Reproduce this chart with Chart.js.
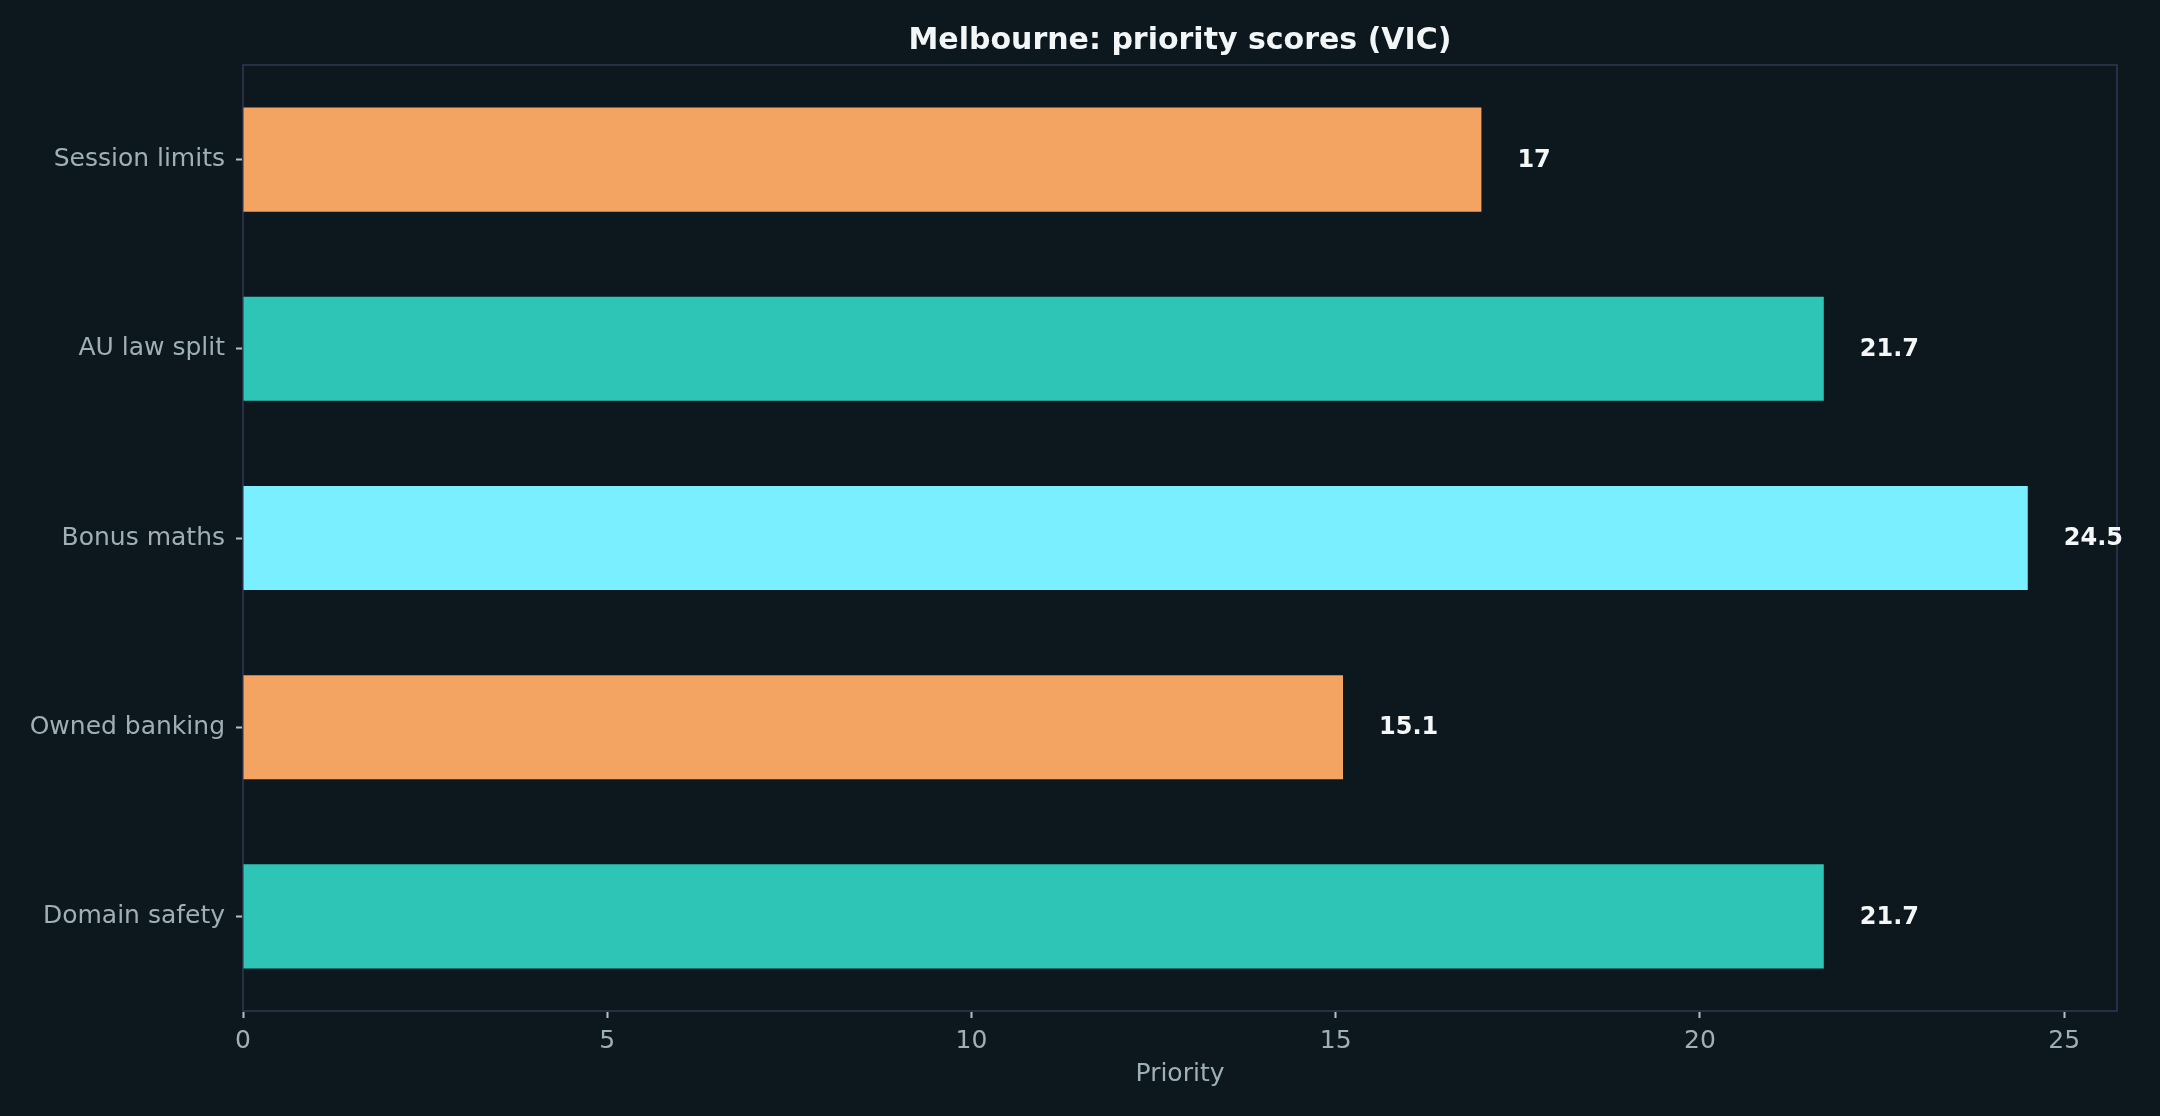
<!DOCTYPE html>
<html>
<head>
<meta charset="utf-8">
<script src="https://cdn.jsdelivr.net/npm/chart.js@4.4.1/dist/chart.umd.min.js"></script>
<style>
  html, body { margin: 0; padding: 0; background: #0c181e; }
  #wrap { width: 2160px; height: 1116px; }
</style>
</head>
<body>
<div id="wrap"><canvas id="prioChart" width="2160" height="1116"></canvas></div>
<script>
// donnees
const categories = ['Session limits', 'AU law split', 'Bonus maths', 'Owned banking', 'Domain safety'];
const priorityScores = [17, 21.7, 24.5, 15.1, 21.7];
const xTicks = [0, 5, 10, 15, 20, 25];
const xMax = 25.725;

const couleurTexte = '#9fb0b5';
const couleurCadre = '#272e45';
const police = 'DejaVu Sans';

// fond de la page + cadre autour de la zone (sous les barres et les textes)
const fondPlugin = {
    id: 'fond',
    beforeDraw(chart) {
        const ctx = chart.ctx;
        ctx.save();
        ctx.fillStyle = '#0c181e';
        ctx.fillRect(0, 0, chart.width, chart.height);
        ctx.restore();
    },
    beforeDatasetsDraw(chart) {
        const ctx = chart.ctx;
        const a = chart.chartArea;
        ctx.save();
        ctx.strokeStyle = couleurCadre;
        ctx.lineWidth = 2;
        ctx.strokeRect(a.left, a.top, a.right - a.left, a.bottom - a.top);
        ctx.restore();
    }
};

// titre centre sur la zone du graphique
const titrePlugin = {
    id: 'titre',
    afterDraw(chart) {
        const ctx = chart.ctx;
        const a = chart.chartArea;
        ctx.save();
        ctx.fillStyle = '#f3f6f6';
        ctx.font = `bold 30px "${police}"`;
        ctx.textAlign = 'center';
        ctx.textBaseline = 'middle';
        ctx.fillText('Melbourne: priority scores (VIC)', (a.left + a.right) / 2, 41.5);
        ctx.restore();
    }
};

// etiquettes de valeur a droite des barres
const valeursPlugin = {
    id: 'valeurs',
    afterDatasetsDraw(chart) {
        const ctx = chart.ctx;
        const meta = chart.getDatasetMeta(0);
        ctx.save();
        ctx.fillStyle = '#f5f7f7';
        ctx.font = `bold 24px "${police}"`;
        ctx.textAlign = 'left';
        ctx.textBaseline = 'middle';
        meta.data.forEach((bar, i) => {
            ctx.fillText(String(priorityScores[i]), bar.x + 36, bar.y + 1);
        });
        ctx.restore();
    }
};

const ctx = document.getElementById('prioChart').getContext('2d');
new Chart(ctx, {
    type: 'bar',
    data: {
        labels: categories,
        datasets: [{
            data: priorityScores,
            backgroundColor: ['#f4a462', '#2ec4b6', '#7aefff', '#f4a462', '#2ec4b6'],
            borderWidth: 0,
            categoryPercentage: 1,
            barPercentage: 0.55
        }]
    },
    options: {
        indexAxis: 'y',
        responsive: false,
        animation: false,
        layout: { padding: { top: 65, right: 43, left: 0, bottom: 0 } },
        plugins: {
            legend: { display: false },
            tooltip: { enabled: false },
            title: { display: false }
        },
        scales: {
            x: {
                min: 0,
                max: xMax,
                afterBuildTicks: function (scale) {
                    scale.ticks = xTicks.map(v => ({ value: v }));
                },
                grid: {
                    drawOnChartArea: false,
                    drawTicks: true,
                    tickLength: 7,
                    tickWidth: 2,
                    tickColor: '#b3c0c4'
                },
                border: { display: false },
                ticks: {
                    color: couleurTexte,
                    font: { family: police, size: 25 },
                    padding: 8,
                    maxRotation: 0
                },
                title: {
                    display: true,
                    text: 'Priority',
                    color: couleurTexte,
                    font: { family: police, size: 25 },
                    padding: { top: 0, bottom: 27 }
                },
                afterFit: function (scale) { scale.height = 105; }
            },
            y: {
                grid: {
                    offset: false,
                    drawOnChartArea: false,
                    drawTicks: true,
                    tickLength: 7,
                    tickWidth: 2,
                    tickColor: '#b3c0c4'
                },
                border: { display: false },
                ticks: {
                    color: couleurTexte,
                    font: { family: police, size: 25 },
                    padding: 11
                },
                afterFit: function (scale) { scale.width = 243; }
            }
        }
    },
    plugins: [fondPlugin, valeursPlugin, titrePlugin]
});
</script>
</body>
</html>
